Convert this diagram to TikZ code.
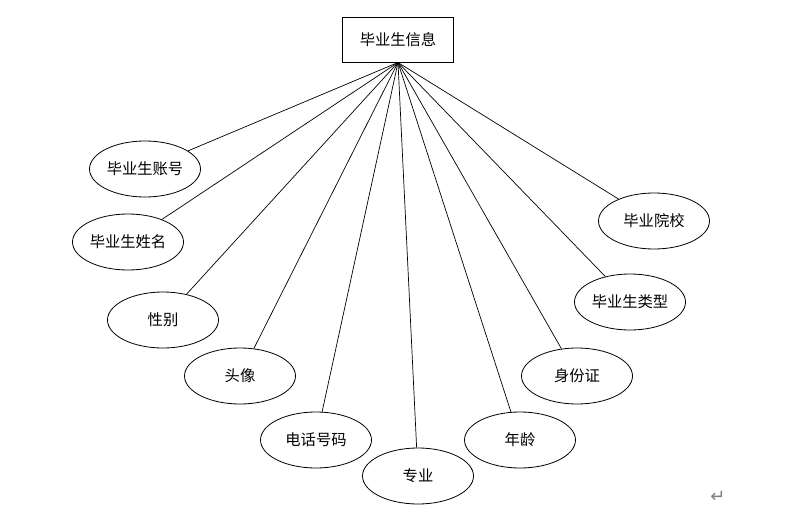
\documentclass[tikz,border=0pt]{standalone}
\usepackage{fontspec}
\newfontfamily\cjk{Noto Sans CJK SC}
\newfontfamily\symf{DejaVu Sans}
\usetikzlibrary{shapes.geometric}
\begin{document}
\begin{tikzpicture}[x=1pt,y=-1pt,
  attr/.style={draw,ellipse,line width=0.8pt,minimum width=111pt,minimum height=56pt,inner sep=0pt,font=\cjk\fontsize{15.3}{17}\selectfont},
  ent/.style={draw,rectangle,line width=0.8pt,minimum width=111pt,minimum height=45pt,inner sep=0pt,font=\cjk\fontsize{15.3}{17}\selectfont},
  link/.style={line width=0.7pt}]
\useasboundingbox (0,0) rectangle (800,524);
\node[ent] (top) at (398,40) {毕业生信息};
\coordinate (hub) at (398,62.5);
\node[attr] (zh) at (145,169) {毕业生账号};
\node[attr] (xm) at (128,242) {毕业生姓名};
\node[attr] (xb) at (163,320) {性别};
\node[attr] (tx) at (240,376) {头像};
\node[attr] (dh) at (316,440) {电话号码};
\node[attr] (zy) at (418,476) {专业};
\node[attr] (nl) at (520,440) {年龄};
\node[attr] (sf) at (577,376) {身份证};
\node[attr] (lx) at (630,302) {毕业生类型};
\node[attr] (yx) at (654,221) {毕业院校};
\foreach \n in {zh,xm,xb,tx,dh,zy,nl,sf,lx,yx} \draw[link] (hub) -- (\n);
\node[text=gray,font=\symf\fontsize{18}{20}\selectfont] (ret) at (718,497) {↵};
\end{tikzpicture}
\end{document}
